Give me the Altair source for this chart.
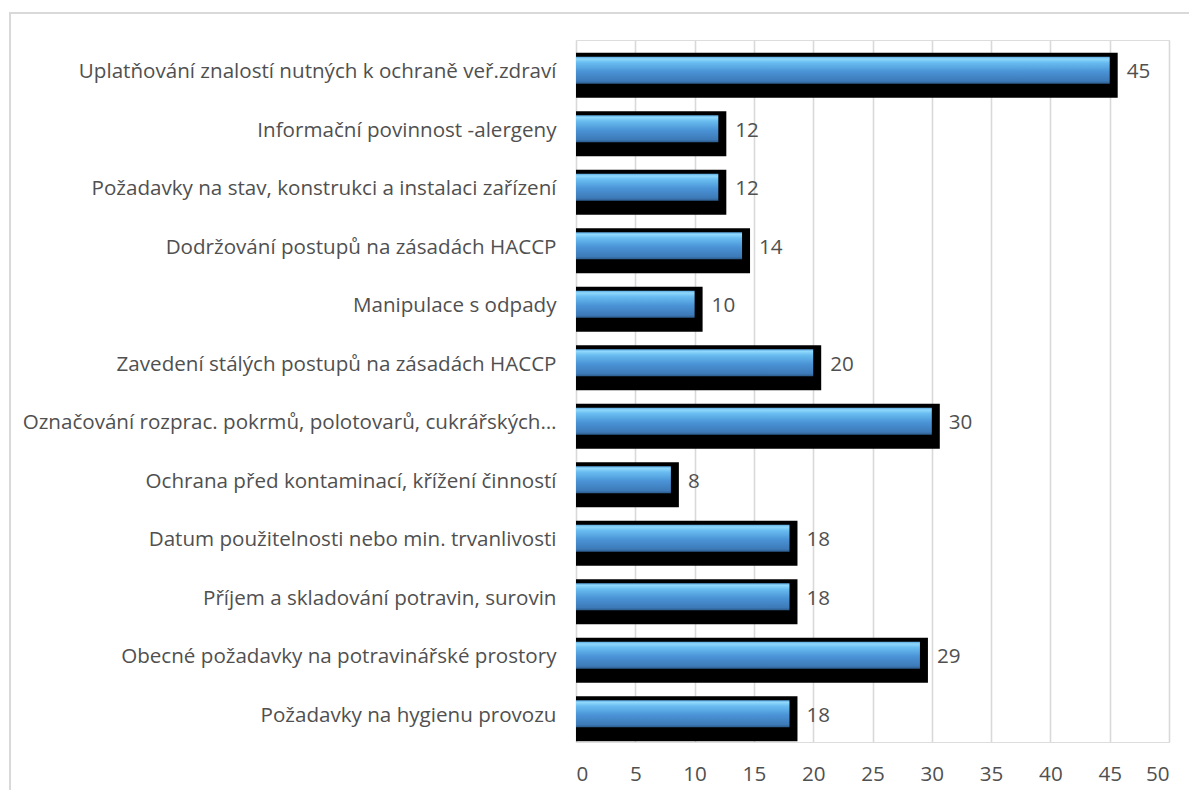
import altair as alt
import pandas as pd

categories = [
    "Uplatňování znalostí nutných k ochraně veř.zdraví",
    "Informační povinnost -alergeny",
    "Požadavky na stav, konstrukci a instalaci zařízení\u00a0",
    "Dodržování postupů na zásadách HACCP",
    "Manipulace s odpady",
    "Zavedení stálých postupů na zásadách HACCP\u00a0",
    "Označování rozprac. pokrmů, polotovarů, cukrářských…",
    "Ochrana před kontaminací, křížení činností",
    "Datum použitelnosti nebo min. trvanlivosti",
    "Příjem a skladování potravin, surovin\u00a0",
    "Obecné požadavky na potravinářské prostory",
    "Požadavky na hygienu provozu",
]
values = [45, 12, 12, 14, 10, 20, 30, 8, 18, 18, 29, 18]
x_ticks = [0, 5, 10, 15, 20, 25, 30, 35, 40, 45, 50]

df = pd.DataFrame({"cat": categories, "val": values})
df["zero"] = 0

FONT = "Open Sans"
FS = 20.6
TXT = "#505050"

yenc = alt.Y("cat:N", sort=categories, title=None,
             scale=alt.Scale(paddingInner=0, paddingOuter=0),
             axis=alt.Axis(domain=False, ticks=False, labelPadding=20, labelLimit=0,
                           labelFontSize=FS, labelFont=FONT, labelColor=TXT,
                           labelOffset=3))
xscale = alt.Scale(domain=[0, 50], nice=False)

base = alt.Chart(df)

shadow = base.mark_bar(color="black", height=45, yOffset=6, x2Offset=8).encode(
    x=alt.X("zero:Q", scale=xscale, title=None,
            axis=alt.Axis(values=x_ticks, grid=True, gridColor="#d9d9d9", gridWidth=1.6,
                          domain=False, ticks=False, labelPadding=22,
                          labelFontSize=FS, labelFont=FONT, labelColor=TXT)),
    x2="val:Q",
    y=yenc,
)

grad = alt.Gradient(
    gradient="linear", x1=0, x2=0, y1=0, y2=1,
    stops=[
        alt.GradientStop(offset=0, color="#5aa8e0"),
        alt.GradientStop(offset=0.08, color="#90d8fc"),
        alt.GradientStop(offset=0.22, color="#68bcf0"),
        alt.GradientStop(offset=0.55, color="#4a93d6"),
        alt.GradientStop(offset=0.9, color="#3d7ab8"),
        alt.GradientStop(offset=1, color="#2c5c8c"),
    ],
)

blue = base.mark_bar(color=grad, height=27, yOffset=1).encode(
    x=alt.X("zero:Q", scale=xscale),
    x2="val:Q",
    y=alt.Y("cat:N", sort=categories),
)

labels = base.mark_text(align="left", baseline="middle", dx=17, dy=3,
                        fontSize=FS, font=FONT, color=TXT).encode(
    x=alt.X("val:Q", scale=xscale),
    y=alt.Y("cat:N", sort=categories),
    text="val:Q",
)

border = alt.Chart(pd.DataFrame({"a": [0]})).mark_rect(
    fill=None, stroke="#d9d9d9", strokeWidth=2, clip=False
).encode(
    x=alt.value(-566), x2=alt.value(700), y=alt.value(-27), y2=alt.value(800)
)

chart = alt.layer(border, shadow, blue, labels).properties(
    width=593, height=702,
    autosize=alt.AutoSizeParams(type="none"),
    padding={"left": 568, "top": 32, "right": 20, "bottom": 48},
).configure_view(stroke=None).configure(background="white")

chart.save("out.html", embed_options={"renderer": "svg", "actions": False})
